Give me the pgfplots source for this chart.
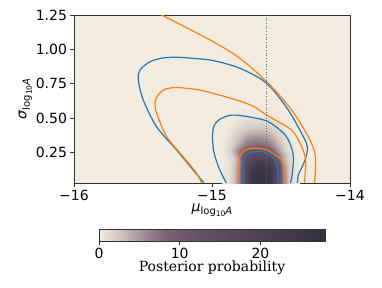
\documentclass[border=0pt]{standalone}
\usepackage{pgfplots}
\pgfplotsset{compat=1.18}
\usetikzlibrary{calc}
\usepackage{fontspec}
\setmainfont{DejaVu Sans}
\newfontfamily\seriffont{DejaVu Serif}
\definecolor{mplblue}{HTML}{1F77B4}
\definecolor{mplorange}{HTML}{FF7F0E}
\definecolor{bgbeige}{RGB}{242,236,224}
\definecolor{spine}{RGB}{50,50,50}
\pgfplotsset{colormap={post}{rgb255(0pt)=(242,236,224) rgb255(10pt)=(205,192,190) rgb255(20pt)=(160,138,148) rgb255(30pt)=(122,97,116) rgb255(45pt)=(100,80,102) rgb255(70pt)=(78,66,88) rgb255(100pt)=(50,48,68)}}
\newcommand{\fs}{\fontsize{14}{16}\selectfont}
\newcommand{\sublabel}{\raisebox{-0.45ex}{\fontsize{10}{11}\selectfont log\raisebox{-0.35ex}{\fontsize{7.5}{8}\selectfont 10}\textit{A}}}
\begin{document}
\begin{tikzpicture}
\path[use as bounding box] (0,0) rectangle (382pt,287pt);
\begin{axis}[
  at={(74pt,104pt)}, anchor=south west,
  scale only axis, width=276pt, height=168pt,
  xmin=-16, xmax=-14, ymin=0.03, ymax=1.25,
  axis background/.style={fill=bgbeige},
  colormap name=post, point meta min=0, point meta max=28,
  xtick={-16,-15,-14}, xticklabels={−16,−15,−14},
  ytick={0.25,0.5,0.75,1.0,1.25}, yticklabels={0.25,0.50,0.75,1.00,1.25},
  tick align=outside, tick pos=left, major tick length=3.5pt,
  every tick/.style={spine, line width=0.8pt},
  axis line style={spine, line width=0.8pt},
  ticklabel style={font=\fs},
  label style={font=\fs},
  xlabel={\textit{μ}\sublabel},
  ylabel={\textit{σ}\sublabel},
  xlabel style={yshift=4pt},
  ylabel style={yshift=-3pt},
  colorbar horizontal,
  colorbar style={
    at={($(parent axis.south west)+(25pt,-50pt)$)}, anchor=south west,
    scale only axis, width=226pt, height=12pt,
    xtick={0,10,20}, xticklabels={0,10,20},
    xtick pos=lower, xticklabel pos=lower,
    tick align=outside, major tick length=3.5pt,
    every tick/.style={spine, line width=0.8pt},
    axis line style={spine, line width=0.8pt},
    ticklabel style={font=\fs},
    xlabel={\seriffont Posterior probability},
    xlabel style={font=\fs, yshift=5pt},
  },
]
\addplot[surf, shader=interp, mesh/cols=15, point meta=explicit] table[row sep=\\, meta=z] {
x y z\\
-14.925 0.03 0.14\\ -14.885 0.03 0.68\\ -14.845 0.03 2.16\\ -14.805 0.03 5.94\\ -14.765 0.03 14.85\\ -14.725 0.03 23.76\\ -14.685 0.03 26.46\\ -14.645 0.03 27.00\\ -14.605 0.03 26.46\\ -14.565 0.03 23.76\\ -14.525 0.03 14.85\\ -14.485 0.03 5.94\\ -14.445 0.03 2.16\\ -14.405 0.03 0.68\\ -14.365 0.03 0.14\\
-14.925 0.07 0.13\\ -14.885 0.07 0.67\\ -14.845 0.07 2.14\\ -14.805 0.07 5.88\\ -14.765 0.07 14.70\\ -14.725 0.07 23.52\\ -14.685 0.07 26.20\\ -14.645 0.07 26.73\\ -14.605 0.07 26.20\\ -14.565 0.07 23.52\\ -14.525 0.07 14.70\\ -14.485 0.07 5.88\\ -14.445 0.07 2.14\\ -14.405 0.07 0.67\\ -14.365 0.07 0.13\\
-14.925 0.11 0.13\\ -14.885 0.11 0.65\\ -14.845 0.11 2.07\\ -14.805 0.11 5.70\\ -14.765 0.11 14.26\\ -14.725 0.11 22.81\\ -14.685 0.11 25.40\\ -14.645 0.11 25.92\\ -14.605 0.11 25.40\\ -14.565 0.11 22.81\\ -14.525 0.11 14.26\\ -14.485 0.11 5.70\\ -14.445 0.11 2.07\\ -14.405 0.11 0.65\\ -14.365 0.11 0.13\\
-14.925 0.15 0.12\\ -14.885 0.15 0.61\\ -14.845 0.15 1.94\\ -14.805 0.15 5.35\\ -14.765 0.15 13.37\\ -14.725 0.15 21.38\\ -14.685 0.15 23.81\\ -14.645 0.15 24.30\\ -14.605 0.15 23.81\\ -14.565 0.15 21.38\\ -14.525 0.15 13.37\\ -14.485 0.15 5.35\\ -14.445 0.15 1.94\\ -14.405 0.15 0.61\\ -14.365 0.15 0.12\\
-14.925 0.19 0.11\\ -14.885 0.19 0.53\\ -14.845 0.19 1.68\\ -14.805 0.19 4.63\\ -14.765 0.19 11.58\\ -14.725 0.19 18.53\\ -14.685 0.19 20.64\\ -14.645 0.19 21.06\\ -14.605 0.19 20.64\\ -14.565 0.19 18.53\\ -14.525 0.19 11.58\\ -14.485 0.19 4.63\\ -14.445 0.19 1.68\\ -14.405 0.19 0.53\\ -14.365 0.19 0.11\\
-14.937 0.23 0.12\\ -14.897 0.23 0.61\\ -14.857 0.23 1.94\\ -14.817 0.23 4.70\\ -14.777 0.23 9.48\\ -14.737 0.23 14.02\\ -14.697 0.23 15.71\\ -14.657 0.23 16.20\\ -14.617 0.23 15.71\\ -14.577 0.23 14.02\\ -14.537 0.23 9.48\\ -14.497 0.23 4.70\\ -14.457 0.23 1.94\\ -14.417 0.23 0.61\\ -14.377 0.23 0.12\\
-14.950 0.27 0.11\\ -14.910 0.27 0.57\\ -14.870 0.27 1.81\\ -14.830 0.27 4.08\\ -14.790 0.27 7.03\\ -14.750 0.27 9.64\\ -14.710 0.27 10.89\\ -14.670 0.27 11.34\\ -14.630 0.27 10.89\\ -14.590 0.27 9.64\\ -14.550 0.27 7.03\\ -14.510 0.27 4.08\\ -14.470 0.27 1.81\\ -14.430 0.27 0.57\\ -14.390 0.27 0.11\\
-14.950 0.31 0.08\\ -14.910 0.31 0.38\\ -14.870 0.31 1.21\\ -14.830 0.31 2.72\\ -14.790 0.31 4.69\\ -14.750 0.31 6.43\\ -14.710 0.31 7.26\\ -14.670 0.31 7.56\\ -14.630 0.31 7.26\\ -14.590 0.31 6.43\\ -14.550 0.31 4.69\\ -14.510 0.31 2.72\\ -14.470 0.31 1.21\\ -14.430 0.31 0.38\\ -14.390 0.31 0.08\\
-14.950 0.35 0.06\\ -14.910 0.35 0.29\\ -14.870 0.35 0.94\\ -14.830 0.35 2.10\\ -14.790 0.35 3.61\\ -14.750 0.35 4.96\\ -14.710 0.35 5.60\\ -14.670 0.35 5.83\\ -14.630 0.35 5.60\\ -14.590 0.35 4.96\\ -14.550 0.35 3.61\\ -14.510 0.35 2.10\\ -14.470 0.35 0.94\\ -14.430 0.35 0.29\\ -14.390 0.35 0.06\\
-14.950 0.39 0.04\\ -14.910 0.39 0.20\\ -14.870 0.39 0.62\\ -14.830 0.39 1.39\\ -14.790 0.39 2.39\\ -14.750 0.39 3.28\\ -14.710 0.39 3.71\\ -14.670 0.39 3.86\\ -14.630 0.39 3.71\\ -14.590 0.39 3.28\\ -14.550 0.39 2.39\\ -14.510 0.39 1.39\\ -14.470 0.39 0.62\\ -14.430 0.39 0.20\\ -14.390 0.39 0.04\\
-14.950 0.43 0.03\\ -14.910 0.43 0.13\\ -14.870 0.43 0.39\\ -14.830 0.43 0.88\\ -14.790 0.43 1.53\\ -14.750 0.43 2.09\\ -14.710 0.43 2.35\\ -14.670 0.43 2.46\\ -14.630 0.43 2.35\\ -14.590 0.43 2.09\\ -14.550 0.43 1.53\\ -14.510 0.43 0.88\\ -14.470 0.43 0.39\\ -14.430 0.43 0.13\\ -14.390 0.43 0.03\\
-14.950 0.47 0.02\\ -14.910 0.47 0.08\\ -14.870 0.47 0.23\\ -14.830 0.47 0.51\\ -14.790 0.47 0.89\\ -14.750 0.47 1.20\\ -14.710 0.47 1.37\\ -14.670 0.47 1.43\\ -14.630 0.47 1.37\\ -14.590 0.47 1.20\\ -14.550 0.47 0.89\\ -14.510 0.47 0.51\\ -14.470 0.47 0.23\\ -14.430 0.47 0.08\\ -14.390 0.47 0.02\\
-14.950 0.51 0\\ -14.910 0.51 0.03\\ -14.870 0.51 0.09\\ -14.830 0.51 0.23\\ -14.790 0.51 0.38\\ -14.750 0.51 0.51\\ -14.710 0.51 0.59\\ -14.670 0.51 0.62\\ -14.630 0.51 0.59\\ -14.590 0.51 0.51\\ -14.550 0.51 0.38\\ -14.510 0.51 0.23\\ -14.470 0.51 0.09\\ -14.430 0.51 0.03\\ -14.390 0.51 0\\
-14.950 0.55 0\\ -14.910 0.55 0.02\\ -14.870 0.55 0.03\\ -14.830 0.55 0.08\\ -14.790 0.55 0.12\\ -14.750 0.55 0.17\\ -14.710 0.55 0.20\\ -14.670 0.55 0.21\\ -14.630 0.55 0.20\\ -14.590 0.55 0.17\\ -14.550 0.55 0.12\\ -14.510 0.55 0.08\\ -14.470 0.55 0.03\\ -14.430 0.55 0.02\\ -14.390 0.55 0\\
-14.950 0.59 0\\ -14.910 0.59 0\\ -14.870 0.59 0\\ -14.830 0.59 0\\ -14.790 0.59 0\\ -14.750 0.59 0\\ -14.710 0.59 0\\ -14.670 0.59 0\\ -14.630 0.59 0\\ -14.590 0.59 0\\ -14.550 0.59 0\\ -14.510 0.59 0\\ -14.470 0.59 0\\ -14.430 0.59 0\\ -14.390 0.59 0\\
};
% blue outer
\addplot[mplblue, line width=1.2pt, smooth, tension=0.5] coordinates {
(-15.058,0.03) (-15.136,0.124) (-15.256,0.269) (-15.401,0.438) (-15.498,0.632) (-15.534,0.778) (-15.522,0.850) (-15.449,0.911) (-15.355,0.938) (-15.256,0.943) (-15.123,0.934) (-14.991,0.919) (-14.797,0.863) (-14.604,0.754) (-14.447,0.560) (-14.338,0.366) (-14.308,0.291) (-14.319,0.218) (-14.341,0.160) (-14.375,0.087) (-14.380,0.03)};
% orange outer
\addplot[mplorange, line width=1.2pt, smooth, tension=0.5] coordinates {
(-15.46,1.30) (-15.365,1.25) (-15.232,1.182) (-14.991,1.056) (-14.797,0.935) (-14.592,0.754) (-14.423,0.560) (-14.302,0.366) (-14.254,0.245) (-14.250,0.124) (-14.258,0.03)};
% orange mid
\addplot[mplorange, line width=1.2pt, smooth, tension=0.5] coordinates {
(-15.075,0.03) (-15.111,0.100) (-15.208,0.220) (-15.328,0.366) (-15.401,0.536) (-15.413,0.610) (-15.399,0.656) (-15.353,0.705) (-15.290,0.722) (-15.232,0.722) (-15.109,0.709) (-14.991,0.681) (-14.797,0.625) (-14.689,0.581) (-14.604,0.523) (-14.423,0.414) (-14.350,0.293) (-14.321,0.196) (-14.325,0.10) (-14.330,0.03)};
% blue mid
\addplot[mplblue, line width=1.2pt, smooth, tension=0.5] coordinates {
(-14.896,0.03) (-14.949,0.138) (-14.986,0.254) (-14.996,0.363) (-14.986,0.443) (-14.942,0.494) (-14.857,0.523) (-14.737,0.511) (-14.592,0.475) (-14.471,0.38) (-14.425,0.29) (-14.410,0.21) (-14.418,0.10) (-14.431,0.03)};
% orange inner
\addplot[mplorange, line width=1.2pt, smooth, tension=0.5] coordinates {
(-14.809,0.03) (-14.809,0.160) (-14.801,0.218) (-14.775,0.258) (-14.739,0.276) (-14.701,0.282) (-14.652,0.281) (-14.601,0.269) (-14.543,0.236) (-14.496,0.196) (-14.471,0.138) (-14.464,0.080) (-14.467,0.03)};
% blue inner
\addplot[mplblue, line width=1.2pt, smooth, tension=0.5] coordinates {
(-14.773,0.03) (-14.773,0.174) (-14.761,0.218) (-14.732,0.247) (-14.676,0.260) (-14.630,0.258) (-14.580,0.236) (-14.543,0.196) (-14.525,0.138) (-14.522,0.080) (-14.522,0.03)};
% dotted reference line
\addplot[black!60, dotted, line width=0.7pt] coordinates {(-14.604,0.03) (-14.604,1.25)};
\end{axis}
\end{tikzpicture}
\end{document}
